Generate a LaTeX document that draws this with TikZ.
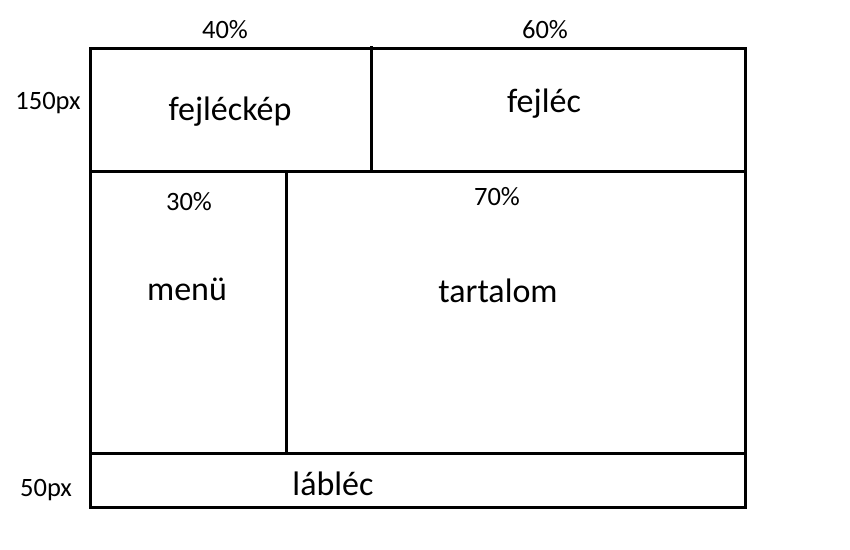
\documentclass[tikz,border=0pt]{standalone}
\usepackage{fontspec}
\setmainfont{Carlito}
\begin{document}
\begin{tikzpicture}[x=1pt,y=-1pt,
  box/.style={line width=3pt},
  small/.style={anchor=base,inner sep=0pt,font=\fontsize{26.5}{30}\selectfont},
  big/.style={anchor=base,inner sep=0pt,font=\fontsize{34}{40}\selectfont}]
\useasboundingbox[fill=white] (0,0) rectangle (850,549);
\coordinate (tl) at (90,48);
\coordinate (br) at (745,507);
\draw[box] (tl) rectangle (br);
\draw[box] (90,171) -- (745,171);
\draw[box] (90,453) -- (745,453);
\draw[box] (371,46) -- (371,171);
\draw[box] (286,171) -- (286,453);
\node[small] (p40) at (225,38) {40\%};
\node[small] (p60) at (545,38) {60\%};
\node[small] (h150) at (48,109) {150px};
\node[big] (fkep) at (230,120) {fejléckép};
\node[big] (fej) at (544,112) {fejléc};
\node[small] (p30) at (189,210) {30\%};
\node[small] (p70) at (497,205) {70\%};
\node[big] (menu) at (187,300) {menü};
\node[big] (tart) at (498,302) {tartalom};
\node[small] (h50) at (46,496) {50px};
\node[big] (lab) at (333,495) {lábléc};
\end{tikzpicture}
\end{document}
